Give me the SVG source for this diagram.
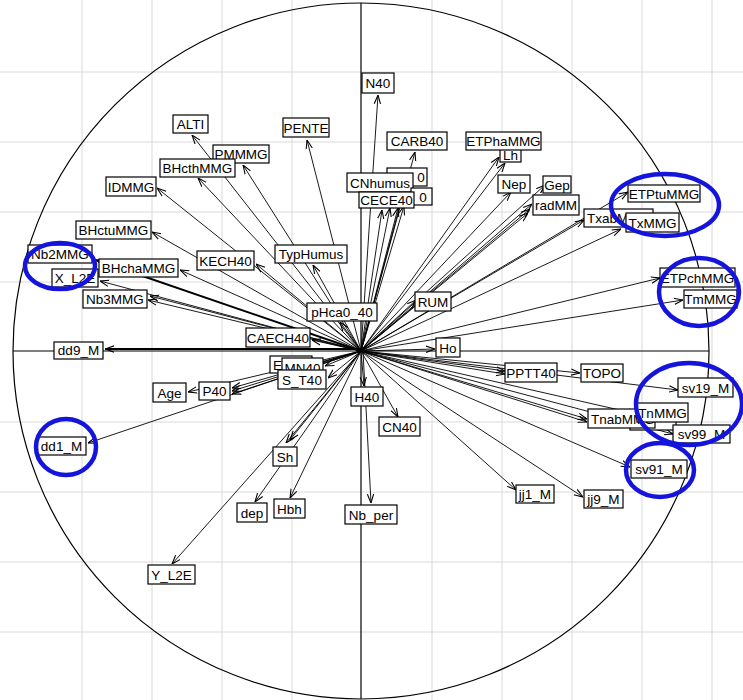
<svg xmlns="http://www.w3.org/2000/svg" width="743" height="700" viewBox="0 0 743 700">
<style>
.grid line{stroke:#d9d9d9;stroke-width:1}
.axis{stroke:#000;stroke-width:1.2;fill:none}
.conn line{stroke:#000;stroke-width:0.9;marker-end:url(#ah)}
.node rect{fill:#fff;stroke:#000;stroke-width:1.2}
.node text{font-family:"Liberation Sans",Arial,sans-serif;font-size:13.5px;fill:#000;text-anchor:middle}
.node text.l{text-anchor:start}
.hl{fill:none;stroke:#1414dc;stroke-width:4.5}
</style>
<defs>
<marker id="ah" viewBox="0 0 10 10" refX="10" refY="5" markerWidth="9" markerHeight="9" markerUnits="userSpaceOnUse" orient="auto">
<path d="M0,1.5 L10,5 L0,8.5" fill="none" stroke="#000" stroke-width="1.2"/>
</marker>
</defs>
<rect width="743" height="700" fill="#fff"/>
<g class="grid">
<line x1="82" y1="0" x2="82" y2="700"/><line x1="152" y1="0" x2="152" y2="700"/><line x1="222" y1="0" x2="222" y2="700"/><line x1="292" y1="0" x2="292" y2="700"/><line x1="432" y1="0" x2="432" y2="700"/><line x1="502" y1="0" x2="502" y2="700"/><line x1="572" y1="0" x2="572" y2="700"/><line x1="642" y1="0" x2="642" y2="700"/><line x1="712" y1="0" x2="712" y2="700"/>
<line x1="0" y1="72" x2="743" y2="72"/><line x1="0" y1="142" x2="743" y2="142"/><line x1="0" y1="212" x2="743" y2="212"/><line x1="0" y1="282" x2="743" y2="282"/><line x1="0" y1="422" x2="743" y2="422"/><line x1="0" y1="492" x2="743" y2="492"/><line x1="0" y1="562" x2="743" y2="562"/><line x1="0" y1="632" x2="743" y2="632"/>
</g>
<g id="axes">
<circle class="axis" cx="361" cy="351" r="348"/>
<line class="axis" x1="13" y1="351" x2="709" y2="351"/>
<line class="axis" x1="361" y1="3" x2="361" y2="699"/>
</g>
<g class="conn" id="connectors">
<line x1="361" y1="351" x2="378" y2="95"/>
<line x1="361" y1="351" x2="415" y2="152"/>
<line x1="361" y1="351" x2="405" y2="186"/>
<line x1="361" y1="351" x2="382" y2="210"/>
<line x1="361" y1="351" x2="390" y2="208"/>
<line x1="361" y1="351" x2="398" y2="208"/>
<line x1="361" y1="351" x2="404" y2="206"/>
<line x1="361" y1="351" x2="307" y2="140"/>
<line x1="361" y1="351" x2="192" y2="135"/>
<line x1="361" y1="351" x2="243" y2="165"/>
<line x1="361" y1="351" x2="198" y2="178"/>
<line x1="361" y1="351" x2="157" y2="188"/>
<line x1="361" y1="351" x2="152" y2="232"/>
<line x1="361" y1="351" x2="256" y2="264"/>
<line x1="361" y1="351" x2="313" y2="265"/>
<line x1="361" y1="351" x2="180" y2="270"/>
<line x1="361" y1="351" x2="96" y2="260" style="stroke-width:2"/>
<line x1="361" y1="351" x2="100" y2="281"/>
<line x1="361" y1="351" x2="148" y2="300"/>
<line x1="361" y1="351" x2="150" y2="296"/>
<line x1="361" y1="351" x2="340" y2="322"/>
<line x1="361" y1="351" x2="312" y2="340"/>
<line x1="361" y1="349" x2="105" y2="349" style="stroke-width:1.8"/>
<line x1="361" y1="351" x2="313" y2="364"/>
<line x1="361" y1="351" x2="325" y2="366"/>
<line x1="361" y1="351" x2="328" y2="378"/>
<line x1="361" y1="351" x2="232" y2="388"/>
<line x1="361" y1="351" x2="232" y2="391"/>
<line x1="361" y1="351" x2="232" y2="394"/>
<line x1="361" y1="351" x2="188" y2="392"/>
<line x1="361" y1="351" x2="88" y2="443"/>
<line x1="361" y1="351" x2="290" y2="440"/>
<line x1="361" y1="351" x2="286" y2="443"/>
<line x1="361" y1="351" x2="255" y2="502"/>
<line x1="361" y1="351" x2="290" y2="498"/>
<line x1="361" y1="351" x2="172" y2="564"/>
<line x1="361" y1="351" x2="364" y2="386"/>
<line x1="363" y1="351" x2="371" y2="503"/>
<line x1="361" y1="351" x2="398" y2="417"/>
<line x1="361" y1="351" x2="435" y2="349"/>
<line x1="361" y1="351" x2="416" y2="300"/>
<line x1="361" y1="351" x2="499" y2="157"/>
<line x1="361" y1="351" x2="505" y2="163"/>
<line x1="361" y1="351" x2="511" y2="192"/>
<line x1="361" y1="351" x2="545" y2="185"/>
<line x1="361" y1="351" x2="532" y2="204"/>
<line x1="361" y1="351" x2="530" y2="209"/>
<line x1="361" y1="351" x2="528" y2="213"/>
<line x1="361" y1="351" x2="584" y2="220"/>
<line x1="361" y1="351" x2="628" y2="192"/>
<line x1="361" y1="351" x2="621" y2="229"/>
<line x1="361" y1="351" x2="660" y2="278"/>
<line x1="361" y1="351" x2="683" y2="300"/>
<line x1="361" y1="351" x2="505" y2="371"/>
<line x1="361" y1="351" x2="505" y2="374"/>
<line x1="361" y1="351" x2="580" y2="373"/>
<line x1="361" y1="351" x2="678" y2="390"/>
<line x1="361" y1="351" x2="587" y2="419"/>
<line x1="361" y1="351" x2="587" y2="422"/>
<line x1="361" y1="351" x2="637" y2="414"/>
<line x1="361" y1="351" x2="673" y2="434"/>
<line x1="361" y1="351" x2="630" y2="467"/>
<line x1="361" y1="351" x2="516" y2="490"/>
<line x1="361" y1="351" x2="583" y2="497"/>
</g>
<g class="node" id="n-N40"><rect x="362" y="73" width="32" height="20"/><text x="378" y="88">N40</text></g>
<g class="node" id="n-PENTE"><rect x="283" y="118" width="46" height="19"/><text x="306" y="133">PENTE</text></g>
<g class="node" id="n-ALTI"><rect x="173" y="115" width="35" height="18"/><text x="190.5" y="129">ALTI</text></g>
<g class="node" id="n-PMMMG"><rect x="213" y="145" width="56" height="18"/><text x="241" y="159">PMMMG</text></g>
<g class="node" id="n-BHcthMMG"><rect x="160" y="159" width="75" height="18"/><text x="197.5" y="173">BHcthMMG</text></g>
<g class="node" id="n-IDMMG"><rect x="106" y="177" width="50" height="19"/><text x="131" y="192">IDMMG</text></g>
<g class="node" id="n-BHctuMMG"><rect x="76" y="221" width="75" height="18"/><text x="113.5" y="235">BHctuMMG</text></g>
<g class="node" id="n-Nb2MMG"><rect x="28" y="245" width="64" height="18"/><text x="60" y="259">Nb2MMG</text></g>
<g class="node" id="n-X_L2E"><rect x="52" y="269" width="46" height="18"/><text x="75" y="283">X_L2E</text></g>
<g class="node" id="n-BHchaMMG"><rect x="99" y="259" width="79" height="18"/><text x="138.5" y="273">BHchaMMG</text></g>
<g class="node" id="n-Nb3MMG"><rect x="83" y="290" width="64" height="18"/><text x="115" y="304">Nb3MMG</text></g>
<g class="node" id="n-KECH40"><rect x="197" y="251" width="57" height="19"/><text x="225.5" y="266">KECH40</text></g>
<g class="node" id="n-TypHumus"><rect x="275" y="245" width="72" height="18"/><text x="311" y="259">TypHumus</text></g>
<g class="node" id="n-pHca0_40"><rect x="307" y="303" width="70" height="18"/><text x="342" y="317">pHca0_40</text></g>
<g class="node" id="n-CAECH40"><rect x="246" y="328" width="64" height="19"/><text x="278" y="343">CAECH40</text></g>
<g class="node" id="n-dd9_M"><rect x="54" y="342" width="49" height="17"/><text x="78.5" y="355">dd9_M</text></g>
<g class="node" id="n-E"><rect x="270" y="356" width="42" height="17"/><text class="l" x="273" y="370">E</text></g>
<g class="node" id="n-MN40"><rect x="282" y="358" width="41" height="17"/><text x="302.5" y="373">MN40</text></g>
<g class="node" id="n-S_T40"><rect x="278" y="370" width="48" height="19"/><text x="302" y="385">S_T40</text></g>
<g class="node" id="n-Age"><rect x="153" y="383" width="33" height="19"/><text x="169.5" y="398">Age</text></g>
<g class="node" id="n-P40"><rect x="199" y="382" width="31" height="18"/><text x="214.5" y="396">P40</text></g>
<g class="node" id="n-dd1_M"><rect x="37" y="437" width="49" height="18"/><text x="61.5" y="451">dd1_M</text></g>
<g class="node" id="n-Sh"><rect x="273" y="447" width="24" height="19"/><text x="285" y="462">Sh</text></g>
<g class="node" id="n-dep"><rect x="237" y="503" width="30" height="19"/><text x="252" y="518">dep</text></g>
<g class="node" id="n-Hbh"><rect x="274" y="499" width="31" height="19"/><text x="289.5" y="514">Hbh</text></g>
<g class="node" id="n-Y_L2E"><rect x="148" y="565" width="47" height="19"/><text x="171.5" y="580">Y_L2E</text></g>
<g class="node" id="n-H40"><rect x="351" y="387" width="32" height="19"/><text x="367" y="402">H40</text></g>
<g class="node" id="n-CN40"><rect x="379" y="417" width="41" height="19"/><text x="399.5" y="432">CN40</text></g>
<g class="node" id="n-Nb_per"><rect x="345" y="505" width="52" height="19"/><text x="371" y="520">Nb_per</text></g>
<g class="node" id="n-RUM"><rect x="415" y="292" width="36" height="19"/><text x="433" y="307">RUM</text></g>
<g class="node" id="n-Ho"><rect x="436" y="338" width="24" height="19"/><text x="448" y="353">Ho</text></g>
<g class="node" id="n-CARB40"><rect x="387" y="132" width="60" height="18"/><text x="417" y="146">CARB40</text></g>
<g class="node" id="n-Lh"><rect x="500" y="146" width="21" height="16"/><text x="510.5" y="160">Lh</text></g>
<g class="node" id="n-ETPhaMMG"><rect x="466" y="132" width="75" height="18"/><text x="503.5" y="146">ETPhaMMG</text></g>
<g class="node" id="n-h0a"><rect x="387" y="168" width="40" height="18"/><text x="421" y="182">0</text></g>
<g class="node" id="n-CNhumus"><rect x="347" y="173" width="66" height="19"/><text x="380" y="188">CNhumus</text></g>
<g class="node" id="n-h0b"><rect x="411" y="188" width="21" height="17"/><text x="423" y="202">0</text></g>
<g class="node" id="n-CECE40"><rect x="359" y="192" width="55" height="16"/><text x="386.5" y="205">CECE40</text></g>
<g class="node" id="n-Nep"><rect x="498" y="175" width="32" height="18"/><text x="514" y="189">Nep</text></g>
<g class="node" id="n-Gep"><rect x="543" y="176" width="28" height="17"/><text x="557" y="190">Gep</text></g>
<g class="node" id="n-radMM"><rect x="533" y="195" width="46" height="20"/><text x="556" y="210">radMM</text></g>
<g class="node" id="n-TxabMMG"><rect x="584" y="209" width="69" height="18"/><text class="l" x="587" y="223">TxabMMG</text></g>
<g class="node" id="n-ETPtuMMG"><rect x="628" y="185" width="72" height="17"/><text x="664" y="199">ETPtuMMG</text></g>
<g class="node" id="n-TxMMG"><rect x="626" y="213" width="53" height="19"/><text x="652.5" y="228">TxMMG</text></g>
<g class="node" id="n-ETPchMMG"><rect x="660" y="268" width="75" height="19"/><text x="697.5" y="283">ETPchMMG</text></g>
<g class="node" id="n-TmMMG"><rect x="684" y="290" width="53" height="18"/><text x="710.5" y="304">TmMMG</text></g>
<g class="node" id="n-PPTT40"><rect x="505" y="363" width="52" height="19"/><text x="531" y="378">PPTT40</text></g>
<g class="node" id="n-TOPO"><rect x="581" y="364" width="42" height="18"/><text x="602" y="378">TOPO</text></g>
<g class="node" id="n-sv19_M"><rect x="678" y="378" width="55" height="19"/><text x="705.5" y="393">sv19_M</text></g>
<g class="node" id="n-hid"><rect x="630" y="416" width="46" height="14"/></g>
<g class="node" id="n-TnabMMG"><rect x="588" y="409" width="67" height="19"/><text class="l" x="591" y="424">TnabMMG</text></g>
<g class="node" id="n-TnMMG"><rect x="637" y="403" width="51" height="19"/><text x="662.5" y="418">TnMMG</text></g>
<g class="node" id="n-sv99_M"><rect x="673" y="425" width="57" height="18"/><text x="701.5" y="439">sv99_M</text></g>
<g class="node" id="n-sv91_M"><rect x="631" y="460" width="56" height="18"/><text x="659" y="474">sv91_M</text></g>
<g class="node" id="n-jj1_M"><rect x="516" y="485" width="38" height="18"/><text x="535" y="499">jj1_M</text></g>
<g class="node" id="n-jj9_M"><rect x="584" y="490" width="39" height="18"/><text x="603.5" y="504">jj9_M</text></g>
<g id="highlights">
<ellipse class="hl" cx="60" cy="266" rx="35" ry="23"/>
<ellipse class="hl" cx="665" cy="205" rx="54" ry="31"/>
<ellipse class="hl" cx="699" cy="292" rx="40" ry="34"/>
<ellipse class="hl" cx="689" cy="404" rx="53" ry="41"/>
<ellipse class="hl" cx="660" cy="470" rx="34" ry="27"/>
<ellipse class="hl" cx="66" cy="447" rx="30" ry="28"/>
</g>
</svg>
